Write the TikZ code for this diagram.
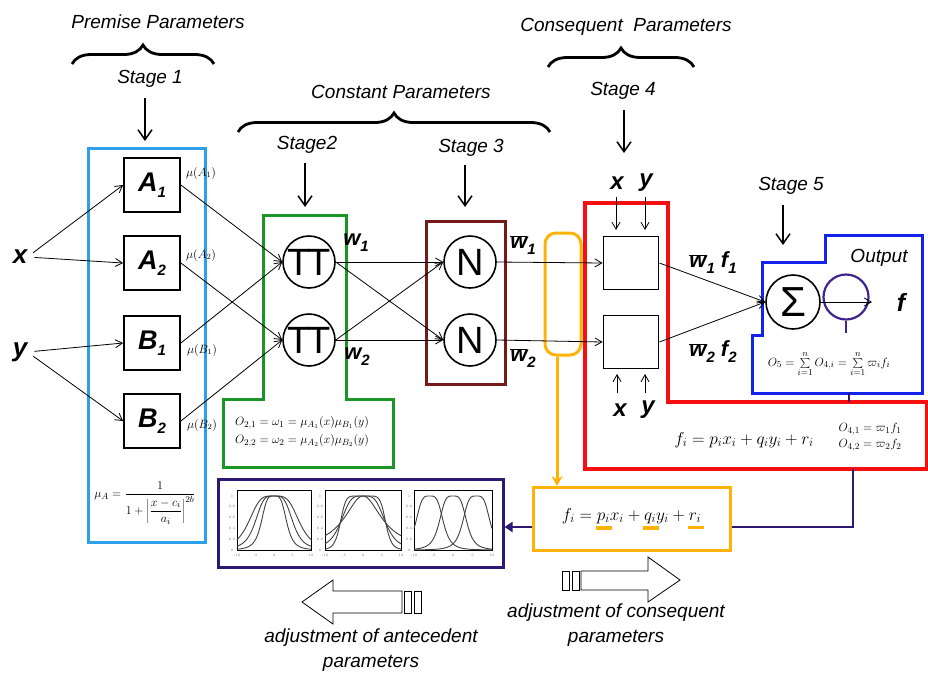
\documentclass[tikz,border=0pt]{standalone}
\usepackage{fontspec}
\setsansfont{Liberation Sans}
\usetikzlibrary{arrows.meta,decorations.pathreplacing,calc}

\definecolor{boxblue}{RGB}{45,160,235}
\definecolor{boxgreen}{RGB}{25,150,35}
\definecolor{boxbrown}{RGB}{120,25,25}
\definecolor{boxred}{RGB}{245,15,15}
\definecolor{amber}{RGB}{255,178,10}
\definecolor{outblue}{RGB}{20,35,235}
\definecolor{navy}{RGB}{45,25,115}
\definecolor{phiviolet}{RGB}{65,35,145}

% lowered subscript in the current label font
\newcommand{\sbx}[1]{{\fontsize{15}{15}\selectfont\raisebox{-6pt}{#1}}}
% w with a bar
\newcommand{\wbar}{\ensuremath{\overline{\hbox{w}}}}
% thick amber underline below a parameter
\newcommand{\orul}[1]{\vtop{\offinterlineskip\hbox{$#1$}\kern3pt\hbox{\rlap{\kern-1pt\color{amber}\rule{16pt}{3.5pt}}}}}

\tikzset{
  lbl/.style={font=\sffamily\itshape\fontsize{19}{25}\selectfont, inner sep=0pt},
  bigv/.style={font=\sffamily\bfseries\itshape\fontsize{26}{28}\selectfont, inner sep=0pt},
  wlbl/.style={font=\sffamily\bfseries\itshape\fontsize{22}{24}\selectfont, inner sep=0pt},
  mfbox/.style={draw, line width=1.8pt, minimum width=56pt, minimum height=54pt, inner sep=0pt,
    font=\sffamily\bfseries\itshape\fontsize{27}{28}\selectfont},
  sqbox/.style={draw, line width=1.8pt, minimum width=55pt, minimum height=53pt, inner sep=0pt},
  opnode/.style={circle, draw, line width=1.6pt, minimum size=52pt, inner sep=0pt,
    font=\sffamily\fontsize{38}{38}\selectfont},
  conn/.style={-{Straight Barb[length=7pt,width=8pt]}, line width=0.8pt},
  stagearrow/.style={-{Straight Barb[length=10pt,width=14pt]}, line width=1.5pt},
  bracedec/.style={decorate, decoration={brace, amplitude=19pt}, line width=2.8pt},
  frm/.style={font=\fontsize{12.8}{16}\selectfont, inner sep=0pt},
  mulbl/.style={font=\fontsize{12}{13}\selectfont, inner sep=0pt},
  plotline/.style={line width=0.9pt, black!75},
  tklbl/.style={font=\fontsize{3.5}{4}\selectfont, text=black!60, inner sep=0pt},
  navyline/.style={navy, line width=2pt},
}

\begin{document}
\begin{tikzpicture}[x=1pt,y=-1pt]
\useasboundingbox (0,0) rectangle (928,675);

% ---------- headings, braces and stage arrows ----------
\node[lbl] (prem) at (158,22) {Premise Parameters};
\coordinate (pbL) at (72,64); \coordinate (pbR) at (214,64);
\draw[bracedec] (pbL) -- (pbR);
\node[lbl] (st1) at (150,79) {Stage 1};
\coordinate (st1a) at (145,98); \coordinate (st1b) at (145,141);
\draw[stagearrow] (st1a) -- (st1b);

\node[lbl] (const) at (401,92) {Constant Parameters};
\coordinate (cbL) at (238,132); \coordinate (cbR) at (550,132);
\draw[bracedec] (cbL) -- (cbR);
\node[lbl] (st2) at (307,145) {Stage2};
\coordinate (st2a) at (305,163); \coordinate (st2b) at (305,207);
\draw[stagearrow] (st2a) -- (st2b);
\node[lbl] (st3) at (471,148) {Stage 3};
\coordinate (st3a) at (465,165); \coordinate (st3b) at (465,207);
\draw[stagearrow] (st3a) -- (st3b);

\node[lbl] (cons) at (626,27) {Consequent \ Parameters};
\coordinate (qbL) at (548,67); \coordinate (qbR) at (694,67);
\draw[bracedec] (qbL) -- (qbR);
\node[lbl] (st4) at (623,91) {Stage 4};
\coordinate (st4a) at (624,110); \coordinate (st4b) at (624,153);
\draw[stagearrow] (st4a) -- (st4b);
\node[lbl] (st5) at (791,186) {Stage 5};
\coordinate (st5a) at (783,205); \coordinate (st5b) at (783,245);
\draw[stagearrow] (st5a) -- (st5b);

% ---------- layer frames ----------
\draw[boxblue, line width=3pt] (88,148) rectangle (205,542);
\draw[boxgreen, line width=3pt] (263,215) -- (263,399) -- (223,399) -- (223,467)
  -- (393,467) -- (393,399) -- (346,399) -- (346,215) -- cycle;
\draw[boxbrown, line width=3pt] (426,221) rectangle (505,384);
\draw[boxred, line width=3.5pt] (585,203) -- (668,203) -- (668,402) -- (927,402)
  -- (927,469) -- (585,469) -- cycle;
\draw[outblue, line width=3pt] (762,262) -- (825,262) -- (825,235) -- (922,235)
  -- (922,393) -- (752,393) -- (752,335) -- (762,335) -- cycle;

% ---------- layer 1 ----------
\node[bigv] (xin) at (20,257) {x};
\node[bigv] (yin) at (20,352) {y};
\node[mfbox] (A1) at (152,185) {A\sbx{1}};
\node[mfbox] (A2) at (152,263) {A\sbx{2}};
\node[mfbox] (B1) at (152,343) {B\sbx{1}};
\node[mfbox] (B2) at (152,421) {B\sbx{2}};
\node[mulbl] (mA1) at (201,173) {$\mu(A_1)$};
\node[mulbl] (mA2) at (201,255) {$\mu(A_2)$};
\node[mulbl] (mB1) at (202,350) {$\mu(B_1)$};
\node[mulbl] (mB2) at (202,425) {$\mu(B_2)$};

% ---------- layers 2 and 3 ----------
\node[opnode] (P1) at (309,262) {T\kern-4ptT};
\node[opnode] (P2) at (309,340) {T\kern-4ptT};
\node[opnode] (N1) at (470,262) {N};
\node[opnode] (N2) at (470,340) {N};
\node[wlbl] (w1) at (356,243) {w\sbx{1}};
\node[wlbl] (w2) at (357,357) {w\sbx{2}};
\node[wlbl] (wb1) at (523,245) {\wbar\sbx{1}};
\node[wlbl] (wb2) at (523,358) {\wbar\sbx{2}};

% ---------- layer 4 ----------
\node[draw=amber, line width=3pt, rounded corners=11pt, minimum width=36pt,
  minimum height=122pt] (orng) at (563,294) {};
\node[sqbox] (S1) at (631,263) {};
\node[sqbox] (S2) at (631,342) {};
\node[wlbl, font=\sffamily\bfseries\itshape\fontsize{24}{24}\selectfont] (x4t) at (617,183) {x};
\node[wlbl, font=\sffamily\bfseries\itshape\fontsize{24}{24}\selectfont] (y4t) at (646,183) {y};
\node[wlbl, font=\sffamily\bfseries\itshape\fontsize{24}{24}\selectfont] (x4b) at (620,410) {x};
\node[wlbl, font=\sffamily\bfseries\itshape\fontsize{24}{24}\selectfont] (y4b) at (648,410) {y};
\coordinate (xt1) at (616,197); \coordinate (xt2) at (616,230);
\coordinate (yt1) at (645,197); \coordinate (yt2) at (645,230);
\coordinate (xb1) at (617,393); \coordinate (xb2) at (617,374);
\coordinate (yb1) at (645,393); \coordinate (yb2) at (645,374);
\draw[conn] (xt1) -- (xt2);
\draw[conn] (yt1) -- (yt2);
\draw[conn] (xb1) -- (xb2);
\draw[conn] (yb1) -- (yb2);
\node[wlbl] (wf1) at (713,263) {\wbar\sbx{1} f\sbx{1}};
\node[wlbl] (wf2) at (713,352) {\wbar\sbx{2} f\sbx{2}};

% ---------- layer 5 ----------
\node[opnode, minimum size=54pt, font=\sffamily\fontsize{42}{42}\selectfont] (Sig) at (793,302) {Σ};
\node[circle, draw=phiviolet, line width=2.2pt, minimum size=45pt, inner sep=0pt] (phi) at (846,297) {};
\coordinate (phit) at (846,333);
\draw[phiviolet, line width=2.2pt] (phi.south) -- (phit);
\node[lbl] (outl) at (879,258) {Output};
\node[bigv, font=\sffamily\bfseries\itshape\fontsize{25}{25}\selectfont] (fout) at (901,302) {f};
\coordinate (fa) at (872,302);
\draw[conn] (Sig.east) -- (fa);

% ---------- connectors ----------
\draw[conn, shorten <=7pt] (xin.east) -- (A1.west);
\draw[conn, shorten <=7pt] (xin.east) -- (A2.west);
\draw[conn, shorten <=7pt] (yin.east) -- (B1.west);
\draw[conn, shorten <=7pt] (yin.east) -- (B2.west);
\draw[conn] (A1.east) -- (P1.west);
\draw[conn] (B1.east) -- (P1.west);
\draw[conn] (A2.east) -- (P2.west);
\draw[conn] (B2.east) -- (P2.west);
\draw[conn] (P1.east) -- (N1.west);
\draw[conn] (P1.east) -- (N2.west);
\draw[conn] (P2.east) -- (N1.west);
\draw[conn] (P2.east) -- (N2.west);
\draw[conn] (N1.east) -- (S1.west);
\draw[conn] (N2.east) -- (S2.west);
\draw[conn] (S1.east) -- (Sig.west);
\draw[conn] (S2.east) -- (Sig.west);

% ---------- formulas ----------
\node[frm, font=\fontsize{12.5}{15}\selectfont] (muA) at (145,503)
  {$\displaystyle\mu_A=\frac{1}{1+\left|\displaystyle\frac{x-c_i}{a_i}\right|^{2b}}$};
\node[frm, align=left] (gf) at (302,432)
  {$O_{2,1}=\omega_1=\mu_{A_1}(x)\mu_{B_1}(y)$\\[2pt]$O_{2,2}=\omega_2=\mu_{A_2}(x)\mu_{B_2}(y)$};
\node[frm, font=\fontsize{13}{15}\selectfont] (o5) at (829,364)
  {$O_5=\sum\limits_{i=1}^{n}O_{4,i}=\sum\limits_{i=1}^{n}\varpi_i f_i$};
\node[frm, font=\fontsize{17.5}{20}\selectfont] (fi) at (744,440) {$f_i=p_ix_i+q_iy_i+r_i$};
\node[frm, font=\fontsize{12.5}{16}\selectfont, align=left] (o4) at (870,437)
  {$O_{4,1}=\varpi_1 f_1$\\$O_{4,2}=\varpi_2 f_2$};

% ---------- consequent update box ----------
\node[draw=amber, line width=3pt, minimum width=197pt, minimum height=63pt,
  font=\fontsize{18}{20}\selectfont] (ybox) at (631.5,519)
  {$f_i=\orul{p_i}x_i+\orul{q_i}y_i+\orul{r_i}$};
\coordinate (ox) at (557,0);
\draw[amber, line width=3pt, -{Stealth[length=10pt,width=11pt]}] (orng.south -| ox) -- (ybox.north -| ox);

% ---------- premise update box with membership plots ----------
\node[draw=navy, line width=3pt, minimum width=285pt, minimum height=88pt] (pbox) at (360.5,523) {};

\begin{scope}[shift={(237,490)}]
  \draw[line width=0.6pt] (0,0) rectangle (74,60);
  \foreach \a in {3.5,5.2,7}
    \draw[plotline] plot[smooth, domain=-10:10, samples=60]
      ({37+3.7*\x},{60-54/(1+(min(abs(\x/\a),5))^4)});
  \foreach \v [count=\i] in {-10,-5,0,5,10}
    \node[tklbl, name=pa\i] at ({37+3.7*\v},65) {\v};
  \foreach \v [count=\i] in {0,0.2,0.4,0.6,0.8,1}
    \node[tklbl, name=pb\i] at (-5,{60-54*\v}) {\v};
\end{scope}

\begin{scope}[shift={(325,490)}]
  \draw[line width=0.6pt] (0,0) rectangle (76,60);
  \foreach \p in {2,4,8}
    \draw[plotline] plot[smooth, domain=-10:10, samples=60]
      ({38+3.8*\x},{60-54/(1+(min(abs(\x/6),2.5))^\p)});
  \foreach \v [count=\i] in {-10,-5,0,5,10}
    \node[tklbl, name=qa\i] at ({38+3.8*\v},65) {\v};
  \foreach \v [count=\i] in {0,0.2,0.4,0.6,0.8,1}
    \node[tklbl, name=qb\i] at (-5,{60-54*\v}) {\v};
\end{scope}

\begin{scope}[shift={(414,490)}]
  \draw[line width=0.6pt] (0,0) rectangle (78,60);
  \foreach \c in {-6,0,6}
    \draw[plotline] plot[smooth, domain=-10:10, samples=60]
      ({39+3.9*\x},{60-54/(1+(min(abs((\x-\c)/3.6),5))^4)});
  \foreach \v [count=\i] in {-10,-5,0,5,10}
    \node[tklbl, name=ra\i] at ({39+3.9*\v},65) {\v};
  \foreach \v [count=\i] in {0,0.2,0.4,0.6,0.8,1}
    \node[tklbl, name=rb\i] at (-5,{60-54*\v}) {\v};
\end{scope}

% ---------- error signal path ----------
\coordinate (nvA) at (849,393); \coordinate (nvB) at (849,402);
\draw[navyline] (nvA) -- (nvB);
\coordinate (nvTop) at (853,469); \coordinate (nvCorner) at (853,527);
\draw[navyline] (nvTop) -- (nvCorner) -- (ybox.east |- nvCorner);
\draw[navyline, -{Triangle[length=8pt,width=10pt]}] (ybox.west |- nvCorner) -- (pbox.east |- nvCorner);

% ---------- adjustment arrows ----------
\draw[line width=0.8pt] (302,602) -- (333,580) -- (333,591) -- (402,591) -- (402,613)
  -- (333,613) -- (333,624) -- cycle;
\draw[line width=0.8pt] (404,591) rectangle (411,613);
\draw[line width=0.8pt] (414,591) rectangle (421,613);
\node[lbl, align=center] (adjA) at (371,650) {adjustment of antecedent\\parameters};

\draw[line width=0.8pt] (581,571) -- (648,571) -- (648,557) -- (680,580) -- (648,602)
  -- (648,590) -- (581,590) -- cycle;
\draw[line width=0.8pt] (562,571) rectangle (569,590);
\draw[line width=0.8pt] (572,571) rectangle (579,590);
\node[lbl, align=center] (adjC) at (616,625) {adjustment of consequent\\parameters};

\end{tikzpicture}
\end{document}
